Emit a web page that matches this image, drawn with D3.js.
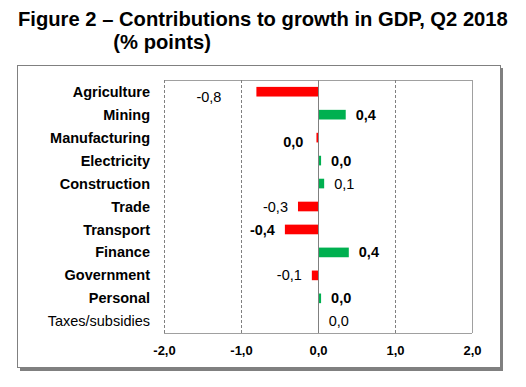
<!DOCTYPE html>
<html>
<head>
<meta charset="utf-8">
<script src="https://cdn.jsdelivr.net/npm/d3@7"></script>
<style>
  body { margin: 0; background: #fff; }
  svg text { font-family: Arial, "Liberation Sans", sans-serif; }
</style>
</head>
<body>
<div id="chart"></div>
<script>
var categories = ["Agriculture", "Mining", "Manufacturing", "Electricity", "Construction",
    "Trade", "Transport", "Finance", "Government", "Personal", "Taxes/subsidies"];
var values = [-0.8, 0.36, -0.02, 0.04, 0.08, -0.26, -0.43, 0.40, -0.08, 0.04, 0.01];
var xTicks = [-2, -1, 0, 1, 2];

// label styling / hand placed labels, like the original
var boldValueLabels = ["Mining", "Manufacturing", "Electricity", "Transport", "Finance", "Personal"];
var normalCategoryLabels = ["Taxes/subsidies"];
var labelNudge = { "Agriculture": [-25, 5], "Manufacturing": [-3, 4] };

var width = 526, height = 387;
var margin = { left: 164, right: 54, top: 80, bottom: 54 };

var svg = d3.select("#chart")
    .append("svg")
    .attr("width", width)
    .attr("height", height);

// frame with shadow
svg.append("rect")
    .attr("x", 20).attr("y", 68)
    .attr("width", 483).attr("height", 303)
    .style("fill", "#808080");
svg.append("rect")
    .attr("x", 17.5).attr("y", 65.5)
    .attr("width", 483).attr("height", 302)
    .style("fill", "#fff")
    .style("stroke", "#808080");

// title
svg.append("text")
    .attr("x", 18)
    .attr("y", 26)
    .style("font-size", "20.2px")
    .style("font-weight", "bold")
    .text("Figure 2 \u2013 Contributions to growth in GDP, Q2 2018");
var indent = svg.append("text")
    .style("font-size", "20.2px")
    .style("font-weight", "bold")
    .text("Figure 2 \u2013 ");
var indentWidth = indent.node().getComputedTextLength();
indent.remove();
svg.append("text")
    .attr("x", 18 + indentWidth)
    .attr("y", 49)
    .style("font-size", "20.2px")
    .style("font-weight", "bold")
    .text("(% points)");

var x = d3.scaleLinear()
    .domain([-2, 2])
    .range([margin.left, width - margin.right]);

var y = d3.scaleBand()
    .domain(categories)
    .range([margin.top, height - margin.bottom])
    .paddingInner(0.58)
    .paddingOuter(0.3);

var locale = d3.formatLocale({ decimal: ",", thousands: ".", grouping: [3], currency: ["", ""], minus: "-" });
var fmt = locale.format(".1f");

var plotTop = margin.top, plotBottom = height - margin.bottom;

// plot border
svg.append("line")
    .attr("x1", x(-2)).attr("x2", x(2))
    .attr("y1", plotTop + 0.5).attr("y2", plotTop + 0.5)
    .style("stroke", "#a0a0a0");
svg.append("line")
    .attr("x1", x(-2)).attr("x2", x(2))
    .attr("y1", plotBottom + 0.5).attr("y2", plotBottom + 0.5)
    .style("stroke", "#a0a0a0");
svg.append("line")
    .attr("x1", x(2) + 0.5).attr("x2", x(2) + 0.5)
    .attr("y1", plotTop).attr("y2", plotBottom)
    .style("stroke", "#a0a0a0");

// grid lines
svg.selectAll(".grid")
    .data(xTicks.filter(function(d) { return d !== 0 && d !== 2; }))
    .enter()
    .append("line")
    .attr("class", "grid")
    .attr("x1", function(d) { return Math.round(x(d)) + 0.5; })
    .attr("x2", function(d) { return Math.round(x(d)) + 0.5; })
    .attr("y1", plotTop)
    .attr("y2", plotBottom)
    .style("stroke", "#808080")
    .style("stroke-dasharray", "3,2");

// bars
svg.selectAll(".bar")
    .data(values)
    .enter()
    .append("rect")
    .attr("class", "bar")
    .attr("x", function(d) { return x(Math.min(0, d)); })
    .attr("y", function(d, i) { return y(categories[i]); })
    .attr("width", function(d) { return Math.abs(x(d) - x(0)); })
    .attr("height", y.bandwidth())
    .style("fill", function(d) { return d < 0 ? "#ff0000" : "#00b050"; });

// zero axis
svg.append("line")
    .attr("x1", Math.round(x(0)) + 0.5).attr("x2", Math.round(x(0)) + 0.5)
    .attr("y1", plotTop).attr("y2", plotBottom)
    .style("stroke", "#808080");

// category labels
svg.selectAll(".cat")
    .data(categories)
    .enter()
    .append("text")
    .attr("class", "cat")
    .attr("x", 150)
    .attr("y", function(d) { return y(d) + y.bandwidth() / 2; })
    .attr("dy", "0.35em")
    .attr("text-anchor", "end")
    .style("font-size", "14.5px")
    .style("font-weight", function(d) { return normalCategoryLabels.indexOf(d) >= 0 ? "normal" : "bold"; })
    .text(function(d) { return d; });

// value labels
svg.selectAll(".val")
    .data(values)
    .enter()
    .append("text")
    .attr("class", "val")
    .attr("x", function(d, i) {
        var n = labelNudge[categories[i]] || [0, 0];
        return (d < 0 ? x(d) - 10 : x(d) + 10) + n[0];
    })
    .attr("y", function(d, i) {
        var n = labelNudge[categories[i]] || [0, 0];
        return y(categories[i]) + y.bandwidth() / 2 + n[1];
    })
    .attr("dy", "0.35em")
    .attr("text-anchor", function(d) { return d < 0 ? "end" : "start"; })
    .style("font-size", "14.5px")
    .style("font-weight", function(d, i) { return boldValueLabels.indexOf(categories[i]) >= 0 ? "bold" : "normal"; })
    .text(function(d) { return fmt(Math.round(d * 10) / 10 || 0); });

// x axis labels
var xAxis = d3.axisBottom(x)
    .tickValues(xTicks)
    .tickSize(0)
    .tickPadding(13)
    .tickFormat(function(d) { return fmt(d); });

var gx = svg.append("g")
    .attr("transform", "translate(0," + plotBottom + ")")
    .call(xAxis);
gx.select(".domain").remove();
gx.selectAll("text")
    .style("font-size", "13px")
    .style("font-weight", "bold")
    .style("font-family", "Arial, 'Liberation Sans', sans-serif")
    .style("fill", "#000");
</script>
</body>
</html>
